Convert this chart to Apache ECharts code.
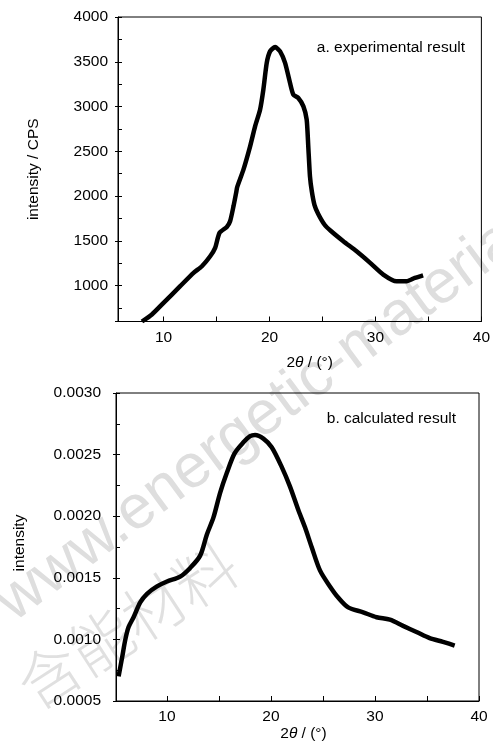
<!DOCTYPE html>
<html>
<head>
<meta charset="utf-8">
<script src="https://cdn.jsdelivr.net/npm/echarts@6/dist/echarts.min.js"></script>
<style>
html,body{margin:0;padding:0;background:#fff;}
#c{width:493px;height:751px;}
</style>
</head>
<body>
<div id="c"></div>
<script>
// (a) experimental result
const expX = [7.96, 8.9, 10.0, 11.57, 12.83, 13.62, 14.4, 14.87, 15.28, 15.97, 16.28, 16.6, 16.85, 16.95, 17.54, 18.17, 18.64, 19.11, 19.42, 19.74, 20.05, 20.53, 21.0, 21.47, 21.94, 22.25, 22.72, 23.2, 23.51, 23.66, 23.82, 24.0, 24.25, 24.6, 25.2, 25.8, 26.97, 28.22, 29.5, 30.74, 32.0, 32.94, 33.72, 34.5];
const expY = [600, 678, 808, 994, 1143, 1217, 1328, 1422, 1589, 1656, 1719, 1886, 2036, 2100, 2296, 2556, 2779, 2965, 3189, 3487, 3616, 3665, 3616, 3487, 3263, 3133, 3096, 3002, 2854, 2556, 2221, 2050, 1900, 1800, 1680, 1610, 1496, 1384, 1255, 1124, 1049, 1049, 1087, 1116];
// (b) calculated result
const calcX = [5.35, 5.68, 6.0, 6.31, 6.79, 7.43, 8.08, 9.04, 10.0, 11.27, 12.23, 13.19, 13.83, 14.47, 15.11, 15.75, 16.5, 17.35, 17.99, 18.47, 19.27, 20.07, 21.03, 21.83, 22.63, 23.27, 23.91, 24.71, 25.67, 26.46, 27.42, 28.86, 30.15, 31.43, 32.7, 33.99, 35.26, 36.54, 37.66];
const calcY = [0.00070, 0.00085, 0.00100, 0.00110, 0.00118, 0.00130, 0.00137, 0.00143, 0.00147, 0.00151, 0.00158, 0.00168, 0.00185, 0.00199, 0.00219, 0.00235, 0.00251, 0.00260, 0.00265, 0.00266, 0.00263, 0.00256, 0.00240, 0.00224, 0.00205, 0.00191, 0.00175, 0.00156, 0.00143, 0.00134, 0.00126, 0.00122, 0.00118, 0.00116, 0.00111, 0.00106, 0.00101, 0.00098, 0.00095];
// tick labels
const xTickLabels = [10, 20, 30, 40];
const yTickLabelsA = [1000, 1500, 2000, 2500, 3000, 3500, 4000];
const yTickLabelsB = ['0.0005', '0.0010', '0.0015', '0.0020', '0.0025', '0.0030'];
const labelA = 'a. experimental result';
const labelB = 'b. calculated result';

const FONT = 'Liberation Sans, Arial, sans-serif';
const FS = 15.5;
const black = '#000';

function pairs(xs, ys) { return xs.map((x, i) => [x, ys[i]]); }

function xAxisCfg(grid, min, namePad, nameGap) {
  return {
    type: 'value', gridIndex: grid, min: min, max: 40, minInterval: 5, maxInterval: 5, splitNumber: 7,
    axisLine: { show: true, lineStyle: { color: black, width: 1 } },
    axisTick: { show: true, inside: true, length: 5, lineStyle: { color: black } },
    splitLine: { show: false },
    axisLabel: {
      color: black, fontSize: FS, fontFamily: FONT, margin: 8, showMinLabel: false,
      formatter: v => (xTickLabels.indexOf(Math.round(v * 1000) / 1000) >= 0 ? String(v) : '')
    },
    name: '{n|2}{t|θ}{n| / (°)}', nameLocation: 'middle', nameGap: nameGap,
    nameTextStyle: {
      padding: [0, 0, 0, namePad],
      rich: {
        n: { fontSize: FS, fontFamily: FONT, color: black },
        t: { fontSize: FS, fontFamily: FONT, color: black, fontStyle: 'italic' }
      }
    }
  };
}

function minorYAxis(grid, min, max, step) {
  return {
    type: 'value', gridIndex: grid, min: min, max: max, minInterval: step, maxInterval: step, splitNumber: 14,
    position: 'left', offset: 0,
    axisLine: { show: false },
    axisTick: { show: true, inside: true, length: 4, lineStyle: { color: black } },
    axisLabel: { show: false },
    splitLine: { show: false }
  };
}

const option = {
  animation: false,
  backgroundColor: '#fff',
  grid: [
    { left: 118, right: 11, top: 17, height: 304.5, show: true, borderColor: black, borderWidth: 1, containLabel: false },
    { left: 116, right: 14, top: 393, height: 308, show: true, borderColor: black, borderWidth: 1, containLabel: false }
  ],
  xAxis: [
    xAxisCfg(0, 5.7, 20, 33),
    xAxisCfg(1, 5.1, 12, 24)
  ],
  yAxis: [
    {
      type: 'value', gridIndex: 0, min: 600, max: 4000, minInterval: 500, maxInterval: 500, splitNumber: 7,
      position: 'left',
      axisLine: { show: true, lineStyle: { color: black } },
      axisTick: { show: true, inside: false, length: 3, lineStyle: { color: black } },
      splitLine: { show: false },
      axisLabel: { color: black, fontSize: FS, fontFamily: FONT, margin: 10,
        formatter: v => (yTickLabelsA.indexOf(Math.round(v)) >= 0 ? String(v) : '') },
      name: 'intensity / CPS', nameLocation: 'middle', nameGap: 76,
      nameTextStyle: { color: black, fontSize: FS, fontFamily: FONT }
    },
    {
      type: 'value', gridIndex: 1, min: 0.0005, max: 0.0030, minInterval: 0.0005, maxInterval: 0.0005, splitNumber: 5,
      position: 'left',
      axisLine: { show: true, lineStyle: { color: black } },
      axisTick: { show: true, inside: false, length: 3, lineStyle: { color: black } },
      splitLine: { show: false },
      axisLabel: { color: black, fontSize: FS, fontFamily: FONT, margin: 15,
        formatter: v => { const s = v.toFixed(4); return yTickLabelsB.indexOf(s) >= 0 ? s : ''; } },
      name: 'intensity', nameLocation: 'middle', nameGap: 88,
      nameTextStyle: { color: black, fontSize: FS, fontFamily: FONT, padding: [0, 0, 0, 8] }
    },
    minorYAxis(0, 600, 4000, 250),
    minorYAxis(1, 0.0005, 0.0030, 0.00025)
  ],
  graphic: [
    { type: 'text', x: 465, y: 40, style: { text: labelA, fill: black, font: FS + 'px ' + FONT, textAlign: 'right', textVerticalAlign: 'top' } },
    { type: 'text', x: 456, y: 411, style: { text: labelB, fill: black, font: FS + 'px ' + FONT, textAlign: 'right', textVerticalAlign: 'top' } },
    { type: 'text', x: 22, y: 634, rotation: 36.5 * Math.PI / 180, z: -10,
      style: { text: 'www.energetic-materials.org.cn', fill: '#dedede', font: '62px ' + FONT, textAlign: 'left', textVerticalAlign: 'bottom' } },
    { type: 'text', x: 40, y: 718, rotation: 33 * Math.PI / 180, z: -10,
      style: { text: '含能材料', fill: '#e0e0e0', font: '200 62px "Noto Sans CJK SC"', textAlign: 'left', textVerticalAlign: 'bottom' } }
  ],
  series: [
    { type: 'line', xAxisIndex: 0, yAxisIndex: 0, data: pairs(expX, expY), showSymbol: false, smooth: 0.2,
      lineStyle: { color: black, width: 4.5 }, clip: true, z: 5 },
    { type: 'line', xAxisIndex: 1, yAxisIndex: 1, data: pairs(calcX, calcY), showSymbol: false, smooth: 0.3,
      lineStyle: { color: black, width: 4.5 }, clip: true, z: 5 }
  ]
};
const chart = echarts.init(document.getElementById('c'), null, { renderer: 'canvas' });
chart.setOption(option);
</script>
</body>
</html>
